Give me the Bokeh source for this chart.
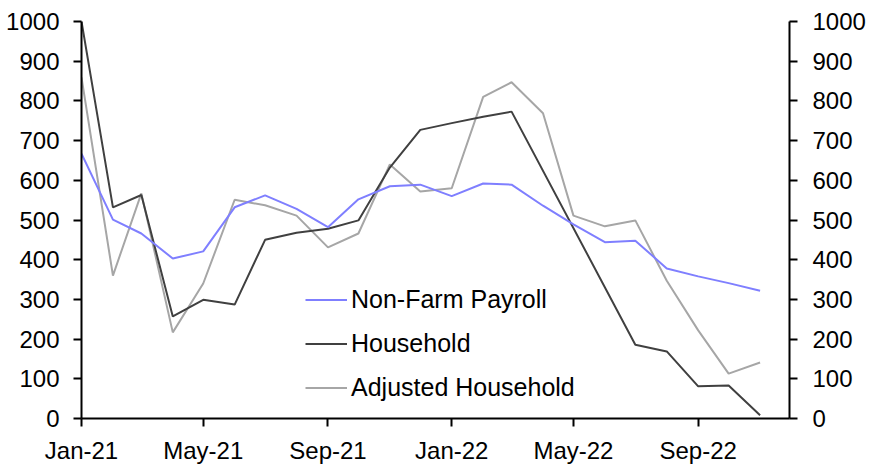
from datetime import datetime
from bokeh.plotting import figure
from bokeh.models import (ColumnDataSource, Range1d, LinearAxis, FixedTicker,
                          DatetimeTickFormatter, Legend, LegendItem)
from bokeh.embed import file_html
from bokeh.resources import INLINE

months = [datetime(2021 + (i // 12), i % 12 + 1, 1) for i in range(23)]  # Jan-21 .. Nov-22

non_farm = [667, 501, 466, 403, 421, 532, 562, 528, 482, 552, 585, 589,
            560, 592, 589, 536, 489, 444, 448, 378, 358, 341, 322]
household = [1000, 532, 563, 257, 299, 287, 450, 468, 478, 499, 632, 727,
             744, 760, 773, None, None, None, 186, 169, 81, 83, 8]
adj_household = [859, 360, 567, 217, 340, 551, 537, 511, 431, 466, 640, 572,
                 580, 810, 847, 769, 511, 484, 499, 347, 222, 113, 141]

tick_dates = [datetime(2021, 1, 1), datetime(2021, 5, 1), datetime(2021, 9, 1),
              datetime(2022, 1, 1), datetime(2022, 5, 1), datetime(2022, 9, 1)]
y_ticks = list(range(0, 1001, 100))

FONT = "Liberation Sans"
FS = "24px"

p = figure(width=868, height=466, output_backend="svg", toolbar_location=None,
           x_axis_type="datetime",
           x_range=Range1d(datetime(2021, 1, 1), datetime(2022, 11, 30)),
           y_range=Range1d(0, 1000),
           min_border_left=81, min_border_right=78, min_border_top=21,
           min_border_bottom=48)
p.outline_line_color = None
p.grid.grid_line_color = None
p.background_fill_color = "white"
p.border_fill_color = "white"

def series(vals):
    xs = [m for m, v in zip(months, vals) if v is not None]
    ys = [v for v in vals if v is not None]
    return ColumnDataSource(dict(x=xs, y=ys))

r_adj = p.line("x", "y", source=series(adj_household), line_color="#a6a6a6", line_width=2)
r_hh = p.line("x", "y", source=series(household), line_color="#404040", line_width=2)
r_nfp = p.line("x", "y", source=series(non_farm), line_color="#7f7fff", line_width=2)

def style_axis(ax):
    ax.axis_line_color = "black"
    ax.axis_line_width = 2
    ax.major_tick_line_color = "black"
    ax.major_tick_line_width = 2
    ax.major_tick_out = 8
    ax.major_tick_in = 0
    ax.minor_tick_line_color = None
    ax.major_label_text_font = FONT
    ax.major_label_text_font_size = FS
    ax.major_label_text_color = "black"

xa = p.xaxis[0]
xa.ticker = FixedTicker(ticks=[d.timestamp() * 1000 for d in tick_dates])
xa.formatter = DatetimeTickFormatter(months="%b-%y", days="%b-%y", years="%b-%y")
xa.major_label_standoff = 10
style_axis(xa)

ya = p.yaxis[0]
ya.ticker = FixedTicker(ticks=y_ticks)
ya.major_label_standoff = 14
style_axis(ya)

yr = LinearAxis(ticker=FixedTicker(ticks=y_ticks))
yr.major_label_standoff = 15
style_axis(yr)
p.add_layout(yr, "right")

legend = Legend(items=[LegendItem(label="Non-Farm Payroll", renderers=[r_nfp]),
                       LegendItem(label="Household", renderers=[r_hh]),
                       LegendItem(label="Adjusted Household", renderers=[r_adj])],
                location=(224, 16))
legend.label_text_font = FONT
legend.label_text_font_size = "25px"
legend.label_text_color = "black"
legend.glyph_width = 42
legend.glyph_height = 29
legend.label_height = 29
legend.label_standoff = 4
legend.spacing = 15
legend.padding = 0
legend.margin = 0
legend.border_line_color = None
legend.background_fill_alpha = 0
p.add_layout(legend, "center")

open("out.html", "w").write(file_html(p, INLINE))
